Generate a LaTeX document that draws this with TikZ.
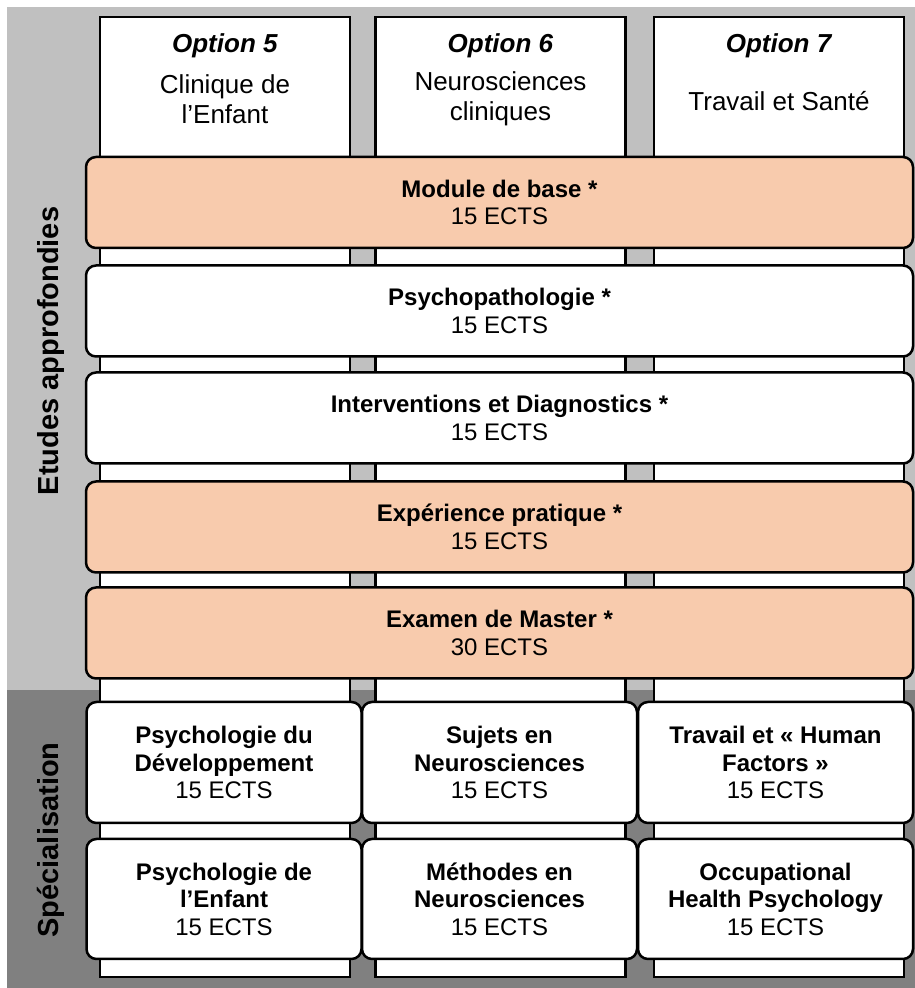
\documentclass[tikz,border=0pt]{standalone}
\usepackage{fontspec}
\setmainfont{Liberation Sans}
\usetikzlibrary{positioning}
\definecolor{bglight}{HTML}{C0C0C0}
\definecolor{bgdark}{HTML}{808080}
\definecolor{peach}{HTML}{F8CBAD}
\newcommand{\boxfont}{\fontsize{24}{27.5}\selectfont}
\newcommand{\headfont}{\fontsize{26}{30}\selectfont}
\newcommand{\sidefont}{\fontsize{29}{34}\selectfont\bfseries}
\tikzset{
    column/.style = {
        draw,
        fill=white,
        shape=rectangle,
        minimum width=250pt,
        minimum height=960pt,
        line width=2.5pt
    },
    wide/.style = {
        draw,
        fill=white,
        shape=rectangle,
        rounded corners=10pt,
        minimum width=827pt,
        minimum height=91pt,
        line width=2.5pt,
        align=center,
        font=\boxfont
    },
    core/.style = {
        wide,
        fill=peach
    },
    spec/.style = {
        draw,
        fill=white,
        shape=rectangle,
        rounded corners=10pt,
        minimum width=275pt,
        minimum height=121pt,
        line width=2.5pt,
        align=center,
        font=\boxfont
    },
    head/.style = {
        align=center,
        font=\headfont
    },
    side/.style = {
        rotate=90,
        font=\sidefont
    },
}
\begin{document}
\begin{tikzpicture}[x=1pt, y=1pt]
                \useasboundingbox (0,0) rectangle (915,988);
                % background bands
                \fill[bglight] (7,298) rectangle (915,981);
                \fill[bgdark] (7,0) rectangle (915,298);

                \node[column] (col5) at (225,491) {};
                \node[column] (col6) at (500.5,491) {};
                \node[column] (col7) at (779,491) {};

                \node[head, anchor=base] (opt5) at (225,935) {\textbf{\textit{Option 5}}};
                \node[head, anchor=base] (opt6) at (500.5,935) {\textbf{\textit{Option 6}}};
                \node[head, anchor=base] (opt7) at (779,935) {\textbf{\textit{Option 7}}};
                \node[head] (enfant) at (225,889) {Clinique de\\l’Enfant};
                \node[head] (neuro) at (500.5,889) {Neurosciences\\cliniques};
                \node[head] (sante) at (779,887) {Travail et Santé};

                \node[core] (base) at (499.5,785.5) {\textbf{Module de base *}\\15 ECTS};
                \node[wide] (psycho) at (499.5,677) {\textbf{Psychopathologie *}\\15 ECTS};
                \node[wide] (interv) at (499.5,570) {\textbf{Interventions et Diagnostics *}\\15 ECTS};
                \node[core] (exper) at (499.5,461) {\textbf{Expérience pratique *}\\15 ECTS};
                \node[core] (exam) at (499.5,355) {\textbf{Examen de Master *}\\30 ECTS};

                \node[spec] (dev) at (224,225.5) {\textbf{Psychologie du}\\\textbf{Développement}\\15 ECTS};
                \node[spec] (sujets) at (499.5,225.5) {\textbf{Sujets en}\\\textbf{Neurosciences}\\15 ECTS};
                \node[spec] (human) at (775.5,225.5) {\textbf{Travail et « Human}\\\textbf{Factors »}\\15 ECTS};
                \node[spec, minimum height=120pt] (child) at (224,89) {\textbf{Psychologie de}\\\textbf{l’Enfant}\\15 ECTS};
                \node[spec, minimum height=120pt] (meth) at (499.5,89) {\textbf{Méthodes en}\\\textbf{Neurosciences}\\15 ECTS};
                \node[spec, minimum height=120pt] (ohp) at (775.5,89) {\textbf{Occupational}\\\textbf{Health Psychology}\\15 ECTS};

                \node[side] (etudes) at (51,637) {Etudes approfondies};
                \node[side] (specia) at (51,148) {Spécialisation};
\end{tikzpicture}
\end{document}
